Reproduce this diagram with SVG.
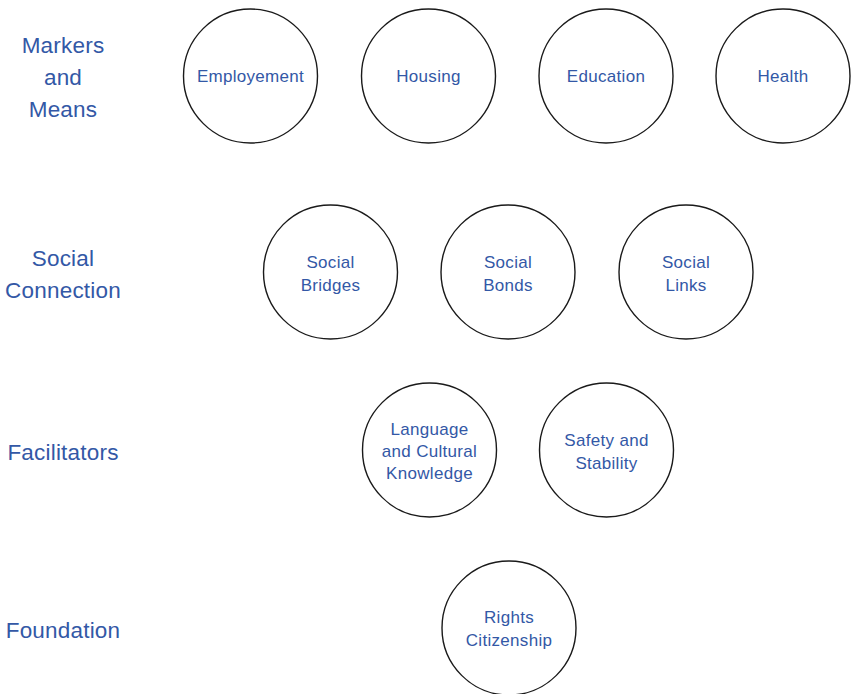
<svg xmlns="http://www.w3.org/2000/svg" width="851" height="694" viewBox="0 0 851 694">
<style>
.node circle{fill:#fff;stroke:#1a1a1a;stroke-width:1.4}
.t{font-family:"Liberation Sans",Arial,sans-serif;fill:#3358a6;text-anchor:middle}
.n{font-size:17px;letter-spacing:0.3px}
.lab{font-size:22.5px;letter-spacing:0.2px}
</style>
<rect width="851" height="694" fill="#fff"/>
<g id="labels">
<text class="t lab" x="63" y="53">Markers</text>
<text class="t lab" x="63" y="85">and</text>
<text class="t lab" x="63" y="117">Means</text>
<text class="t lab" x="63" y="266">Social</text>
<text class="t lab" x="63" y="298">Connection</text>
<text class="t lab" x="63" y="460">Facilitators</text>
<text class="t lab" x="63" y="638">Foundation</text>
</g>
<g id="connectors"></g>
<g id="employement" class="node"><circle cx="250.5" cy="76" r="67"/><text class="t n" x="250.5" y="82">Employement</text></g>
<g id="housing" class="node"><circle cx="428.5" cy="76" r="67"/><text class="t n" x="428.5" y="82">Housing</text></g>
<g id="education" class="node"><circle cx="606" cy="76" r="67"/><text class="t n" x="606" y="82">Education</text></g>
<g id="health" class="node"><circle cx="783" cy="76" r="67"/><text class="t n" x="783" y="82">Health</text></g>
<g id="social-bridges" class="node"><circle cx="330.5" cy="272" r="67"/><text class="t n" x="330.5" y="268">Social</text><text class="t n" x="330.5" y="291">Bridges</text></g>
<g id="social-bonds" class="node"><circle cx="508" cy="272" r="67"/><text class="t n" x="508" y="268">Social</text><text class="t n" x="508" y="291">Bonds</text></g>
<g id="social-links" class="node"><circle cx="686" cy="272" r="67"/><text class="t n" x="686" y="268">Social</text><text class="t n" x="686" y="291">Links</text></g>
<g id="language" class="node"><circle cx="429.5" cy="450" r="67"/><text class="t n" x="429.5" y="435">Language</text><text class="t n" x="429.5" y="457">and Cultural</text><text class="t n" x="429.5" y="479">Knowledge</text></g>
<g id="safety" class="node"><circle cx="606.5" cy="450" r="67"/><text class="t n" x="606.5" y="446">Safety and</text><text class="t n" x="606.5" y="469">Stability</text></g>
<g id="rights" class="node"><circle cx="509" cy="628" r="67"/><text class="t n" x="509" y="623">Rights</text><text class="t n" x="509" y="646">Citizenship</text></g>
</svg>
